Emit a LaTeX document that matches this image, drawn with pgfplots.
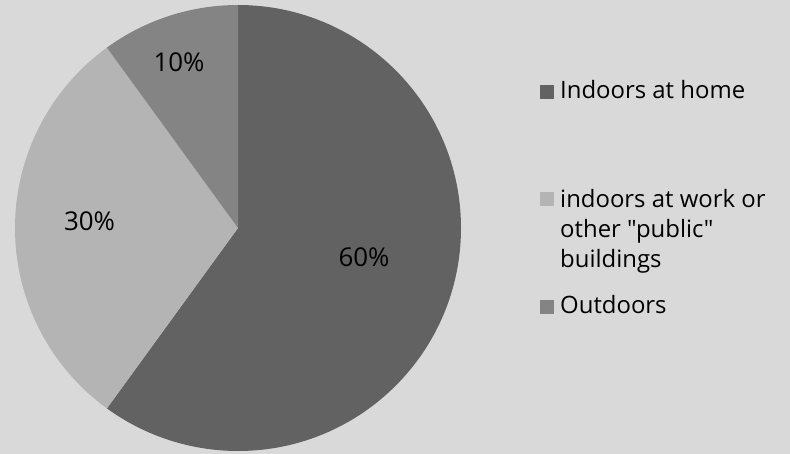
\documentclass[border=0pt]{standalone}
\usepackage{pgfplots}
\pgfplotsset{compat=1.18}
\usepackage{pgfplotstable}
\usepackage{fontspec}
\setmainfont{Open Sans}
\definecolor{bg}{HTML}{D9D9D9}
\definecolor{cHome}{HTML}{626262}
\definecolor{cWork}{HTML}{B4B4B4}
\definecolor{cOut}{HTML}{848484}
\pgfplotstableread{
label value
home 60
work 30
out 10
}\piedata
\pgfplotstablegetelem{0}{value}\of\piedata \let\va\pgfplotsretval
\pgfplotstablegetelem{1}{value}\of\piedata \let\vb\pgfplotsretval
\pgfplotstablegetelem{2}{value}\of\piedata \let\vc\pgfplotsretval
\pgfmathsetmacro\aA{90}
\pgfmathsetmacro\aB{\aA-3.6*\va}
\pgfmathsetmacro\aC{\aB-3.6*\vb}
\pgfmathsetmacro\aD{\aC-3.6*\vc}
\begin{document}
\begin{tikzpicture}
\fill[bg] (0,0) rectangle (790bp,454bp);
\useasboundingbox (0,0) rectangle (790bp,454bp);
\begin{axis}[at={(238bp,226bp)}, anchor=origin, x=223bp, y=223bp,
  xmin=-1, xmax=1, ymin=-1, ymax=1, hide axis, scale only axis, clip=false]
\addplot[draw=none, forget plot] coordinates {(0,0)};
\fill[cHome] (axis cs:0,0) -- ++(\aA:223bp) arc[start angle=\aA, end angle=\aB, radius=223bp] -- cycle;
\fill[cWork] (axis cs:0,0) -- ++(\aB:223bp) arc[start angle=\aB, end angle=\aC, radius=223bp] -- cycle;
\fill[cOut] (axis cs:0,0) -- ++(\aC:223bp) arc[start angle=\aC, end angle=\aD, radius=223bp] -- cycle;
\end{axis}
\begin{scope}[every node/.style={inner sep=0pt, font=\fontsize{26}{30}\selectfont}]
\node[anchor=base] at (179bp,382bp) {10\%};
\node[anchor=base] at (364bp,187bp) {60\%};
\node[anchor=base] at (89.5bp,223bp) {30\%};
\end{scope}
\begin{scope}[every node/.style={inner sep=0pt, font=\fontsize{24}{30}\selectfont}]
\fill[cHome] (540bp,355bp) rectangle (554bp,369bp);
\node[anchor=base west] at (560bp,355bp) {Indoors at home};
\fill[cWork] (540bp,248bp) rectangle (554bp,262bp);
\node[anchor=base west] at (560bp,246bp) {indoors at work or};
\node[anchor=base west] at (560bp,216bp) {\addfontfeatures{Ligatures=TeXOff}other "public"};
\node[anchor=base west] at (560bp,186bp) {buildings};
\fill[cOut] (540bp,140bp) rectangle (554bp,154bp);
\node[anchor=base west] at (560bp,140bp) {Outdoors};
\end{scope}
\end{tikzpicture}
\end{document}
